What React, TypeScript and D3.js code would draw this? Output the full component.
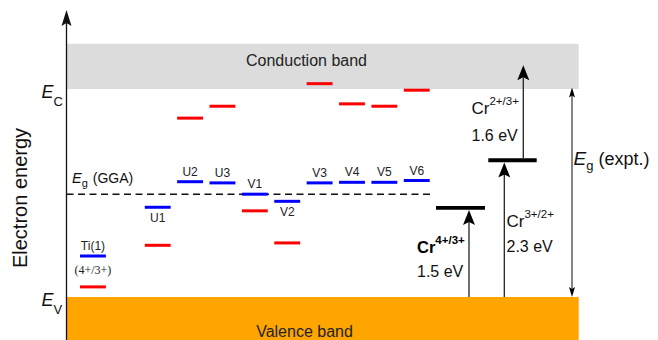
import React from "react";
import * as d3 from "d3";

// ---- data ----
const slots = ["Ti(1)", "_", "U1", "U2", "U3", "V1", "V2", "V3", "V4", "V5", "V6"];
const defectNames = ["Ti(1)", "U1", "U2", "U3", "V1", "V2", "V3", "V4", "V5", "V6"];
const blueLevels = [0.69, 1.51, 1.94, 1.92, 1.73, 1.61, 1.92, 1.93, 1.93, 1.96];
const redLevels = [0.17, 0.87, 3.01, 3.21, 1.45, 0.91, 3.59, 3.25, 3.21, 3.48];
const labelAbove = [true, false, true, true, true, false, true, true, true, true];
const ggaGap = 1.73;
const exptGap = 3.5;
const bandTop = 4.26;
const axisTop = 4.83;
const crLevels = [1.5, 2.3];
const crLabels = ["4+/3+", "3+/2+", "2+/3+"];
const crValues = ["1.5 eV", "2.3 eV", "1.6 eV"];

const W = 658;
const H = 340;
const FONT = "'Liberation Sans', Arial, Helvetica, sans-serif";

export default function App() {
  const y = d3.scaleLinear().domain([0, exptGap]).range([297, 89]);
  const x = d3.scaleBand<string>().domain(slots).range([80, 429.7]).paddingInner(0.2).paddingOuter(0);
  const bw = x.bandwidth();
  const axisX = 66.5;
  const bandRight = 578.7;

  const head = (tx: number, ty: number, dir: number, L: number, Wd: number, notch: number) => {
    const p = d3.path();
    p.moveTo(tx, ty);
    p.lineTo(tx - Wd / 2, ty + dir * L);
    p.lineTo(tx, ty + dir * (L - notch));
    p.lineTo(tx + Wd / 2, ty + dir * L);
    p.closePath();
    return p.toString();
  };

  const cr43x = 469;
  const cr32x = 504.3;
  const cr23x = 523.3;
  const egx = 572;
  const bar43 = [436, 485];
  const bar32 = [488.3, 536.7];
  const yV = y(0);
  const yC = y(exptGap);

  return (
    <svg width={W} height={H} style={{ position: "absolute", left: 0, top: 0 }} fontFamily={FONT}>
      <rect x={0} y={0} width={W} height={H} fill="#fff" />
      {/* bands */}
      <rect x={axisX} y={y(bandTop)} width={bandRight - axisX} height={yC - y(bandTop)} fill="#dcdcdc" />
      <rect x={axisX} y={yV} width={bandRight - axisX} height={H - yV} fill="#ffa500" />
      <text x={306.5} y={66} fontSize={16} textAnchor="middle" fill="#222">Conduction band</text>
      <text x={304.5} y={336.5} fontSize={16} textAnchor="middle" fill="#222">Valence band</text>

      {/* axis */}
      <line x1={axisX} x2={axisX} y1={H} y2={y(axisTop) + 10} stroke="#111" strokeWidth={1.3} />
      <path d={head(axisX, y(axisTop), 1, 16, 10, 3)} fill="#111" />
      <text transform={`translate(27,198) rotate(-90)`} fontSize={20} textAnchor="middle" fill="#111">Electron energy</text>
      <text x={41.5} y={97.7} fontSize={18} fill="#111">
        <tspan fontStyle="italic">E</tspan>
        <tspan fontSize={13} dy={8.3}>C</tspan>
      </text>
      <text x={41.5} y={306} fontSize={18} fill="#111">
        <tspan fontStyle="italic">E</tspan>
        <tspan fontSize={13} dy={8}>V</tspan>
      </text>

      {/* GGA gap */}
      <line x1={axisX} x2={430} y1={y(ggaGap)} y2={y(ggaGap)} stroke="#111" strokeWidth={1.5} strokeDasharray="7,4.5" />
      <text x={72} y={183.3} fontSize={14} fill="#111">
        <tspan fontStyle="italic" fontSize={14.5}>E</tspan>
        <tspan fontSize={11} dy={4}>g</tspan>
        <tspan dy={-4} dx={5}>(GGA)</tspan>
      </text>

      {/* defect levels */}
      {defectNames.map((n, i) => {
        const x0 = x(n)!;
        const yb = y(blueLevels[i]);
        const yr = y(redLevels[i]);
        return (
          <g key={n}>
            <line x1={x0} x2={x0 + bw} y1={yr} y2={yr} stroke="#ff0000" strokeWidth={3} />
            <line x1={x0} x2={x0 + bw} y1={yb} y2={yb} stroke="#0000ff" strokeWidth={3} />
            <text
              x={x0 + bw / 2}
              y={labelAbove[i] ? yb - 6 : yb + 14.5}
              fontSize={12}
              textAnchor="middle"
              fill="#222"
            >
              {n}
            </text>
          </g>
        );
      })}
      <text x={x("Ti(1)")! + bw / 2} y={273.5} fontSize={12} textAnchor="middle" fill="#222" fontFamily="'Liberation Serif', 'Times New Roman', serif">
        (4+/3+)
      </text>

      {/* Cr levels */}
      <line x1={bar43[0]} x2={bar43[1]} y1={y(crLevels[0])} y2={y(crLevels[0])} stroke="#000" strokeWidth={3.8} />
      <line x1={bar32[0]} x2={bar32[1]} y1={y(crLevels[1])} y2={y(crLevels[1])} stroke="#000" strokeWidth={4} />

      {/* Cr arrows */}
      <line x1={cr43x} x2={cr43x} y1={yV} y2={y(crLevels[0]) + 12} stroke="#222" strokeWidth={1.3} />
      <path d={head(cr43x, y(crLevels[0]) + 2.2, 1, 15, 12, 3)} fill="#000" />
      <line x1={cr32x} x2={cr32x} y1={yV} y2={y(crLevels[1]) + 12} stroke="#222" strokeWidth={1.3} />
      <path d={head(cr32x, y(crLevels[1]) + 2.2, 1, 15, 12, 3)} fill="#000" />
      <line x1={cr23x} x2={cr23x} y1={y(crLevels[1]) - 2} y2={y(crLevels[1] + 1.6) + 12} stroke="#222" strokeWidth={1.3} />
      <path d={head(cr23x, y(crLevels[1] + 1.6), 1, 15, 12, 3)} fill="#000" />

      {/* Eg expt arrow */}
      <line x1={egx} x2={egx} y1={yC + 6} y2={yV - 6} stroke="#222" strokeWidth={1.1} />
      <path d={head(egx, yC - 1.5, 1, 10, 6, 2)} fill="#000" />
      <path d={head(egx, yV, -1, 10, 6, 2)} fill="#000" />
      <text x={573.5} y={165} fontSize={18} fill="#111">
        <tspan fontStyle="italic" fontSize={19}>E</tspan>
        <tspan fontSize={13} dy={5}>g</tspan>
        <tspan dy={-5} dx={5}>(expt.)</tspan>
      </text>

      {/* Cr labels */}
      <text x={417} y={252.5} fontSize={16.5} fill="#000" fontWeight="bold">
        Cr<tspan fontSize={11.5} dy={-8.5}>{crLabels[0]}</tspan>
      </text>
      <text x={417} y={276.5} fontSize={16} fill="#111">{crValues[0]}</text>
      <text x={506.5} y={226.7} fontSize={17} fill="#111">
        Cr<tspan fontSize={11.5} dy={-8.5}>{crLabels[1]}</tspan>
      </text>
      <text x={506.5} y={251.5} fontSize={16} fill="#111">{crValues[1]}</text>
      <text x={471.5} y={114} fontSize={17} fill="#111">
        Cr<tspan fontSize={11.5} dy={-9}>{crLabels[2]}</tspan>
      </text>
      <text x={471.5} y={140.5} fontSize={16} fill="#111">{crValues[2]}</text>
    </svg>
  );
}
